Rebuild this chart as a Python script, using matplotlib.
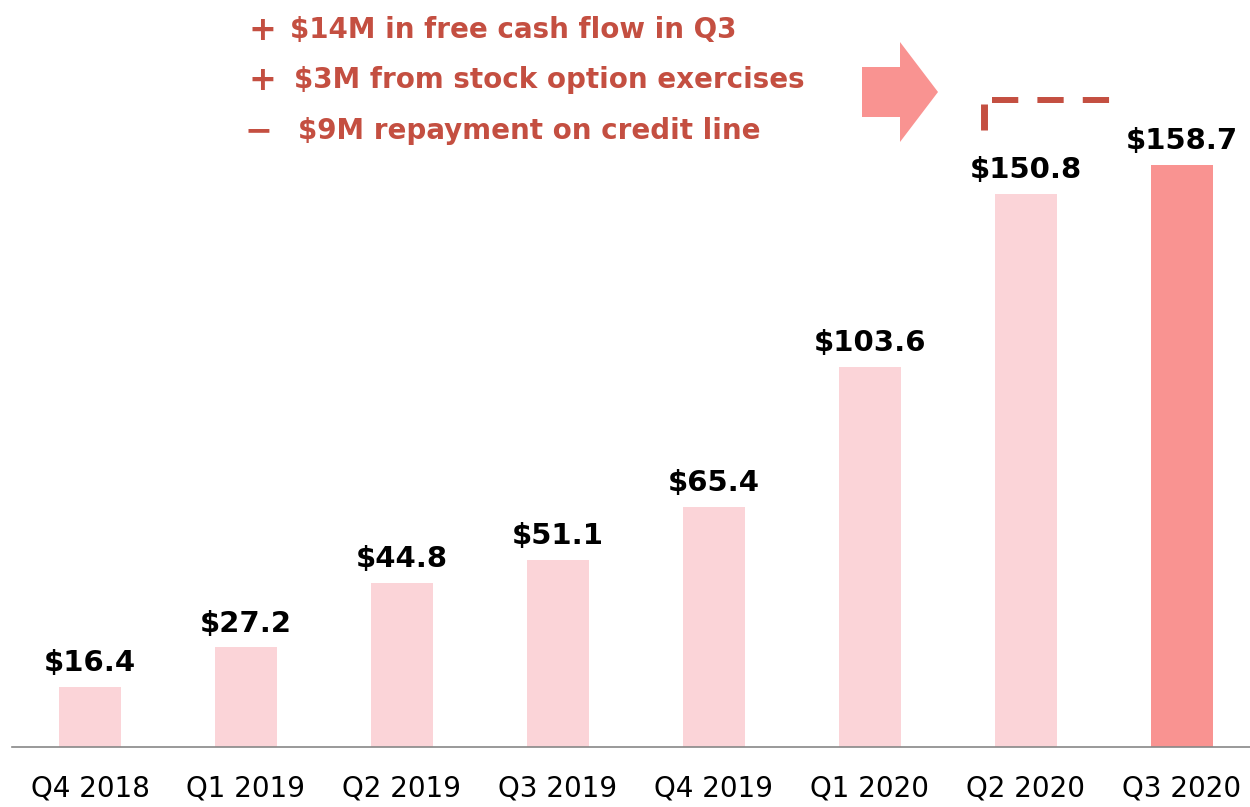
import numpy as np
import matplotlib.pyplot as plt
from matplotlib.patches import FancyArrow

quarters = ["Q4 2018", "Q1 2019", "Q2 2019", "Q3 2019", "Q4 2019", "Q1 2020", "Q2 2020", "Q3 2020"]
cash = [16.4, 27.2, 44.8, 51.1, 65.4, 103.6, 150.8, 158.7]
notes = ["+", "+", "\u2212"]
note_text = ["$14M in free cash flow in Q3", "$3M from stock option exercises", "$9M repayment on credit line"]

light = "#FBD4D8"
dark = "#F99391"
red = "#C44F41"

W, H = 1250, 807
fig = plt.figure(figsize=(W / 100, H / 100), dpi=100)
ax = fig.add_axes([12 / W, (H - 747) / H, 1248 / W, 747 / H])

x = np.arange(len(quarters))
colors = [light] * (len(cash) - 1) + [dark]
ax.bar(x, cash, width=0.4, color=colors)
ax.set_xlim(-0.5, 7.5)
ax.set_ylim(0, 747 / 3.667)

for xi, v in zip(x, cash):
    ax.annotate(f"${v}", (xi, v), xytext=(0, 7), textcoords="offset points",
                ha="center", va="bottom", fontsize=21, fontweight="bold", color="black")

for s in ["top", "right", "left"]:
    ax.spines[s].set_visible(False)
ax.spines["bottom"].set_color("#888888")
ax.spines["bottom"].set_linewidth(1.2)
ax.set_yticks([])
ax.set_xticks(x)
ax.set_xticklabels(quarters, fontsize=20)
ax.tick_params(axis="x", length=0, pad=20)

# annotations, in figure pixels
def fx(px):
    return px / W

def fy(py):
    return (H - py) / H

rows = [30, 80, 131]
for sign, txt, yy, sx, tx in zip(notes, note_text, rows, [262, 262, 258], [290, 294, 298]):
    fig.text(fx(sx), fy(yy), sign, color=red, fontsize=24, fontweight="bold", ha="center", va="center")
    fig.text(fx(tx), fy(yy), txt, color=red, fontsize=20, fontweight="bold", ha="left", va="center")

arrow = FancyArrow(fx(862), fy(92), fx(938) - fx(862), 0, width=50 / H, head_width=100 / H,
                   head_length=fx(938) - fx(900), length_includes_head=True,
                   transform=fig.transFigure, color=dark, lw=0)
fig.patches.append(arrow)

fig.add_artist(plt.Line2D([fx(984), fx(984)], [fy(104), fy(130)], color=red, lw=5,
                          solid_capstyle="butt", transform=fig.transFigure))
fig.add_artist(plt.Line2D([fx(992), fx(1112)], [fy(100), fy(100)], color=red, lw=4.3,
                          linestyle=(0, (4.4, 3.2)), transform=fig.transFigure))

fig.savefig("out.png", dpi=100)
